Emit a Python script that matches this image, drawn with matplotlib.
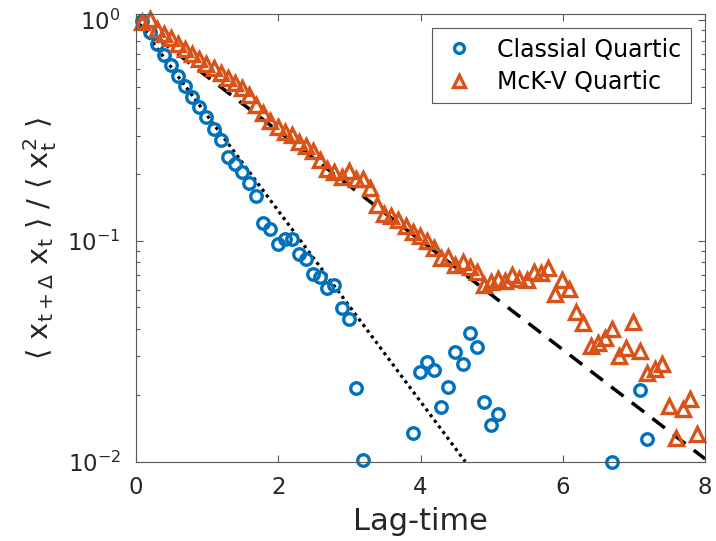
import matplotlib
matplotlib.use("Agg")
import matplotlib.pyplot as plt

plt.rcParams["font.family"] = ["DejaVu Sans"]
plt.rcParams["mathtext.default"] = "regular"
plt.rcParams["axes.unicode_minus"] = False

# lag times (~0.1 spacing)
classic_lag = [0.09, 0.19, 0.29, 0.39, 0.49, 0.59, 0.69, 0.79, 0.89, 0.99,
               1.09, 1.19, 1.29, 1.39, 1.49, 1.59, 1.69, 1.79, 1.89, 1.99,
               2.09, 2.19, 2.29, 2.39, 2.49, 2.59, 2.69, 2.79, 2.89, 2.99,
               3.09, 3.19, 3.89, 3.99, 4.09, 4.19, 4.29, 4.39, 4.49, 4.59,
               4.69, 4.79, 4.89, 4.99, 5.09, 6.69, 7.09, 7.19]
classic_acf = [0.990, 0.883, 0.779, 0.695, 0.626, 0.559, 0.504, 0.449, 0.405, 0.365,
               0.322, 0.287, 0.241, 0.224, 0.206, 0.182, 0.159, 0.121, 0.113, 0.0964,
               0.1016, 0.102, 0.0869, 0.0825, 0.0706, 0.0684, 0.0610, 0.0630, 0.0496, 0.0442,
               0.0216, 0.0102, 0.0135, 0.0255, 0.0283, 0.0260, 0.0177, 0.0218, 0.0314, 0.0277,
               0.0382, 0.0330, 0.0187, 0.0147, 0.0165, 0.0100, 0.0211, 0.0127]

mckv_lag = [0.09, 0.19, 0.29, 0.39, 0.49, 0.59, 0.69, 0.79, 0.89, 0.99,
            1.09, 1.19, 1.29, 1.39, 1.49, 1.59, 1.69, 1.79, 1.89, 1.99,
            2.09, 2.19, 2.29, 2.39, 2.49, 2.59, 2.69, 2.79, 2.89, 2.99,
            3.09, 3.19, 3.29, 3.39, 3.49, 3.59, 3.69, 3.79, 3.89, 3.99,
            4.09, 4.19, 4.29, 4.39, 4.49, 4.59, 4.69, 4.79, 4.89, 4.99,
            5.09, 5.19, 5.29, 5.39, 5.49, 5.59, 5.69, 5.79, 5.89, 5.99,
            6.09, 6.19, 6.29, 6.39, 6.49, 6.59, 6.69, 6.79, 6.89, 6.99,
            7.09, 7.19, 7.29, 7.39, 7.49, 7.59, 7.69, 7.79, 7.89]
mckv_acf = [0.980, 1.010, 0.911, 0.865, 0.829, 0.779, 0.740, 0.702, 0.667, 0.633,
            0.607, 0.576, 0.547, 0.519, 0.493, 0.458, 0.413, 0.380, 0.350, 0.329,
            0.312, 0.303, 0.281, 0.270, 0.256, 0.233, 0.212, 0.206, 0.194, 0.208,
            0.191, 0.190, 0.173, 0.145, 0.132, 0.129, 0.124, 0.117, 0.110, 0.105,
            0.0995, 0.0925, 0.0834, 0.0842, 0.0775, 0.0799, 0.0759, 0.0721, 0.0630, 0.0650,
            0.0670, 0.0655, 0.0699, 0.0670, 0.0663, 0.0721, 0.0713, 0.0751, 0.0573, 0.0668,
            0.0604, 0.0475, 0.0424, 0.0334, 0.0344, 0.0363, 0.0399, 0.0301, 0.0327, 0.0429,
            0.0317, 0.0252, 0.0263, 0.0277, 0.0179, 0.0128, 0.0173, 0.0193, 0.0134]

# exponential fits, straight lines on the log axis (end points)
fit_classic_x = [0.0, 4.63]
fit_classic_y = [1.0, 0.01]
fit_mckv_x = [0.0, 8.0]
fit_mckv_y = [0.98, 0.0103]

blue = "#0072BD"
orange = "#D95319"

fig = plt.figure(figsize=(7.16, 5.41), dpi=100)
ax = fig.add_axes([0.190, 0.1466, 0.7947, 0.8275])

ax.plot(fit_classic_x, fit_classic_y, color="black", lw=2.3,
        linestyle=(0, (1, 1.2)))
ax.plot(fit_mckv_x, fit_mckv_y, color="black", lw=2.5,
        linestyle=(0, (4.5, 3)))
ax.plot(classic_lag, classic_acf, "o", mfc="none", mec=blue, ms=8.3, mew=2.4,
        label="Classial Quartic", clip_on=False)
ax.plot(mckv_lag, mckv_acf, "^", mfc="none", mec=orange, ms=10.5, mew=2.4,
        label="McK-V Quartic", clip_on=False)

ax.set_yscale("log")
ax.set_xlim(0, 8)
ax.set_ylim(0.01, 1.065)
ax.set_xticks([0, 2, 4, 6, 8])
ax.set_yticks([0.01, 0.1, 1])

ax.set_xlabel("Lag-time", fontsize=22, color="#262626", labelpad=6)
ax.set_ylabel(r"$\langle\ x_{t+\Delta}\ x_t\ \rangle$ / $\langle\ x_t^2\ \rangle$",
              fontsize=21, color="#262626", labelpad=6)

ax.tick_params(which="both", direction="in", top=True, right=True,
               labelsize=16.5, labelcolor="#262626", color="0.35")
ax.tick_params(which="major", length=5, width=0.8)
ax.tick_params(which="minor", length=3, width=0.8)
ax.tick_params(axis="x", pad=10)
ax.tick_params(axis="y", pad=11)
for s in ax.spines.values():
    s.set_color("0.35")
    s.set_linewidth(0.8)

leg = ax.legend(loc="upper right", fontsize=17, frameon=True, fancybox=False,
                edgecolor="0.35", framealpha=1, borderaxespad=0.6,
                borderpad=0.4, handlelength=1.5, handletextpad=0.86,
                labelspacing=0.35, markerscale=0.85)
leg.get_frame().set_linewidth(0.8)

fig.savefig("out.png", dpi=100)
